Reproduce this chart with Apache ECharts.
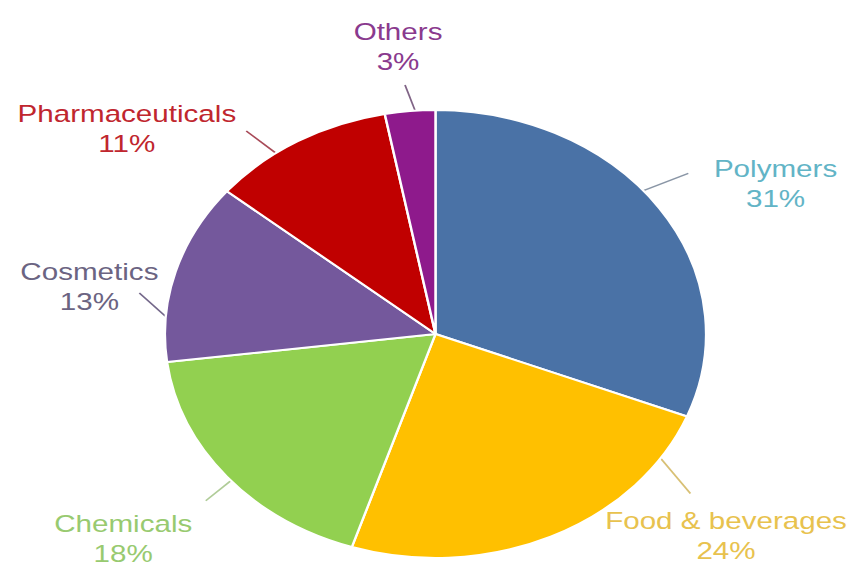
<!DOCTYPE html>
<html>
<head>
<meta charset="utf-8">
<script src="https://cdn.jsdelivr.net/npm/echarts@6/dist/echarts.min.js"></script>
<style>
  html, body { margin: 0; padding: 0; background: #ffffff; overflow: hidden; }
  /* the whole drawing is widened horizontally, slices and lettering alike */
  #chart { width: 701px; height: 570px; transform: scaleX(1.208); transform-origin: 0 0; }
</style>
</head>
<body>
<div id="chart"></div>
<script>
// Market share by application segment (%)
const categories = ['Polymers', 'Food & beverages', 'Chemicals', 'Cosmetics', 'Pharmaceuticals', 'Others'];
const shares = [31, 24, 18, 13, 11, 3];

// Styling
const sliceColors  = ['#4A72A6', '#FFC000', '#92D050', '#74589C', '#C00000', '#8E1A8C'];
const labelColors  = ['#62B4C6', '#E8C24E', '#98CA70', '#6B6482', '#C0262E', '#8A3A8E'];
const leaderColors = ['#8A96A6', '#D8C074', '#B0CC98', '#74688A', '#A84A58', '#806486'];

// Label block centres, and leader lines: "at" is the fraction along the slice arc
// where the line leaves the pie, "len"/"dir" its length and heading in degrees.
const labelCenters = [[642, 183], [601, 535], [102, 538], [74, 286], [105, 128], [329.5, 46]];
const leaders = [
  { at: 0.45, len: 41, dir: -25 },
  { at: 0.14, len: 43, dir: 55 },
  { at: 0.48, len: 29, dir: 136 },
  { at: 0.25, len: 32, dir: 227 },
  { at: 0.36, len: 33, dir: 222 },
  { at: 0.60, len: 27, dir: 252 }
];

const CX = 360.5, CY = 334, R = 224;

// angular extent of each slice, clockwise from 12 o'clock (screen degrees, y down)
const total = shares.reduce((a, b) => a + b, 0);
const ranges = [];
let acc = 0;
shares.forEach(v => {
  const a0 = -90 + acc / total * 360;
  acc += v;
  ranges.push([a0, -90 + acc / total * 360]);
});

const chart = echarts.init(document.getElementById('chart'), null, { renderer: 'svg' });

chart.setOption({
  backgroundColor: '#ffffff',
  animation: false,
  series: [{
    type: 'pie',
    center: [CX, CY],
    radius: [0, R],
    startAngle: 90,
    clockwise: true,
    avoidLabelOverlap: false,
    silent: true,
    itemStyle: { borderColor: '#ffffff', borderWidth: 2 },
    label: {
      show: true,
      position: 'outside',
      formatter: '{b}\n{c}%',
      fontFamily: 'Liberation Sans, Arial, sans-serif',
      fontSize: 24.5,
      lineHeight: 30,
      align: 'center'
    },
    labelLine: { show: true, length: 10, length2: 10, lineStyle: { width: 1.5 } },
    labelLayout: function (params) {
      const i = params.dataIndex;
      const [a0, a1] = ranges[i];
      const lead = leaders[i];
      const t = (a0 + (a1 - a0) * lead.at) * Math.PI / 180;
      const ax = CX + R * Math.cos(t), ay = CY + R * Math.sin(t);
      const d = lead.dir * Math.PI / 180;
      const ex = ax + lead.len * Math.cos(d), ey = ay + lead.len * Math.sin(d);
      return {
        x: labelCenters[i][0],
        y: labelCenters[i][1],
        align: 'center',
        verticalAlign: 'middle',
        labelLinePoints: [[ax, ay], [ex, ey], [ex, ey]]
      };
    },
    data: categories.map((name, i) => ({
      name: name,
      value: shares[i],
      itemStyle: { color: sliceColors[i] },
      label: { color: labelColors[i] },
      labelLine: { lineStyle: { color: leaderColors[i] } }
    }))
  }]
});
</script>
</body>
</html>
